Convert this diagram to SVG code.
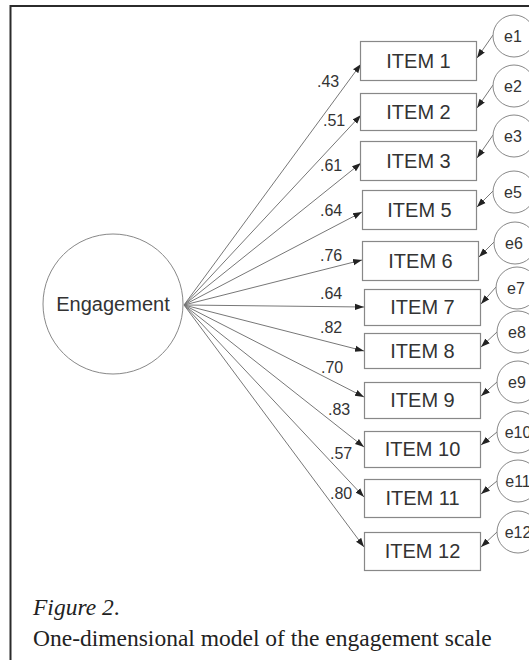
<svg xmlns="http://www.w3.org/2000/svg" width="529" height="660" viewBox="0 0 529 660">
<defs>
<marker id="ah" markerUnits="userSpaceOnUse" markerWidth="10" markerHeight="8" refX="9" refY="4" orient="auto">
<path d="M0,0.8 L9,4 L0,7.2 Z" fill="#222"/>
</marker>
<style>
.box{fill:#fff;stroke:#888;stroke-width:1.2}
.circ{fill:#fff;stroke:#888;stroke-width:1}
.itxt{font-family:"Liberation Sans",Arial,sans-serif;font-size:20px;fill:#333;text-anchor:middle}
.etxt{font-family:"Liberation Sans",Arial,sans-serif;font-size:16px;fill:#333;text-anchor:middle}
.lbl{font-family:"Liberation Sans",Arial,sans-serif;font-size:16px;fill:#333}
.ln{stroke:#777;stroke-width:1;fill:none;marker-end:url(#ah)}
.cap{font-family:"Liberation Serif","Times New Roman",serif;font-size:23.5px;fill:#222}
</style>
</defs>
<rect x="0" y="0" width="529" height="660" fill="#fff"/>
<path d="M10.5,660 V6 H529" fill="none" stroke="#2b2b2b" stroke-width="2"/>

<g id="connectors">
<line class="ln" x1="184" y1="305" x2="361" y2="64"/>
<line class="ln" x1="184" y1="305" x2="361" y2="115"/>
<line class="ln" x1="184" y1="305" x2="361" y2="163"/>
<line class="ln" x1="184" y1="305" x2="362" y2="212"/>
<line class="ln" x1="184" y1="305" x2="362" y2="260"/>
<line class="ln" x1="184" y1="305" x2="364" y2="307"/>
<line class="ln" x1="184" y1="305" x2="364" y2="351"/>
<line class="ln" x1="184" y1="305" x2="364" y2="397"/>
<line class="ln" x1="184" y1="305" x2="364" y2="447"/>
<line class="ln" x1="184" y1="305" x2="364" y2="497"/>
<line class="ln" x1="184" y1="305" x2="364" y2="547"/>
<line class="ln" x1="493" y1="35" x2="477" y2="58"/>
<line class="ln" x1="493" y1="85" x2="477" y2="108"/>
<line class="ln" x1="493" y1="135" x2="477" y2="158"/>
<line class="ln" x1="493" y1="191" x2="477" y2="207"/>
<line class="ln" x1="494" y1="242" x2="479" y2="257"/>
<line class="ln" x1="496" y1="287" x2="481" y2="304"/>
<line class="ln" x1="497" y1="332" x2="481" y2="347"/>
<line class="ln" x1="497" y1="382" x2="481" y2="396"/>
<line class="ln" x1="497" y1="432" x2="481" y2="445"/>
<line class="ln" x1="497" y1="481" x2="481" y2="494"/>
<line class="ln" x1="497" y1="532" x2="481" y2="547"/>
<text class="lbl" x="317" y="87">.43</text>
<text class="lbl" x="323" y="126">.51</text>
<text class="lbl" x="320" y="171">.61</text>
<text class="lbl" x="320" y="216">.64</text>
<text class="lbl" x="320" y="261">.76</text>
<text class="lbl" x="320" y="299">.64</text>
<text class="lbl" x="320" y="333">.82</text>
<text class="lbl" x="321" y="373">.70</text>
<text class="lbl" x="328" y="415">.83</text>
<text class="lbl" x="330" y="459">.57</text>
<text class="lbl" x="330" y="499">.80</text>
</g>

<g id="engagement">
<circle class="circ" cx="113" cy="304" r="70"/>
<text class="itxt" x="113" y="311">Engagement</text>
</g>

<g id="item1"><rect class="box" x="360.5" y="41.5" width="116" height="39"/><text class="itxt" x="418.5" y="68">ITEM 1</text></g>
<g id="item2"><rect class="box" x="360.5" y="93.5" width="116" height="37"/><text class="itxt" x="418.5" y="119">ITEM 2</text></g>
<g id="item3"><rect class="box" x="360.5" y="141.5" width="116" height="39"/><text class="itxt" x="418.5" y="168">ITEM 3</text></g>
<g id="item5"><rect class="box" x="362.5" y="190.5" width="114" height="39"/><text class="itxt" x="419.5" y="217">ITEM 5</text></g>
<g id="item6"><rect class="box" x="362.5" y="241.5" width="116" height="39"/><text class="itxt" x="420.5" y="268">ITEM 6</text></g>
<g id="item7"><rect class="box" x="364.5" y="289.5" width="116" height="36"/><text class="itxt" x="422.5" y="314">ITEM 7</text></g>
<g id="item8"><rect class="box" x="364.5" y="333.5" width="116" height="35"/><text class="itxt" x="422.5" y="358">ITEM 8</text></g>
<g id="item9"><rect class="box" x="364.5" y="382.5" width="116" height="36"/><text class="itxt" x="422.5" y="407">ITEM 9</text></g>
<g id="item10"><rect class="box" x="364.5" y="431.5" width="116" height="36"/><text class="itxt" x="422.5" y="456">ITEM 10</text></g>
<g id="item11"><rect class="box" x="364.5" y="479.5" width="116" height="38"/><text class="itxt" x="422.5" y="505">ITEM 11</text></g>
<g id="item12"><rect class="box" x="364.5" y="532.5" width="116" height="38"/><text class="itxt" x="422.5" y="558">ITEM 12</text></g>

<g id="e1"><circle class="circ" cx="514" cy="36" r="21"/><text class="etxt" x="513" y="42">e1</text></g>
<g id="e2"><circle class="circ" cx="514" cy="86" r="21"/><text class="etxt" x="513" y="92">e2</text></g>
<g id="e3"><circle class="circ" cx="514" cy="136" r="21"/><text class="etxt" x="513" y="142">e3</text></g>
<g id="e5"><circle class="circ" cx="514" cy="192" r="21"/><text class="etxt" x="513" y="198">e5</text></g>
<g id="e6"><circle class="circ" cx="515" cy="243" r="21"/><text class="etxt" x="514" y="249">e6</text></g>
<g id="e7"><circle class="circ" cx="517" cy="288" r="21"/><text class="etxt" x="516" y="294">e7</text></g>
<g id="e8"><circle class="circ" cx="518" cy="332" r="21"/><text class="etxt" x="517" y="338">e8</text></g>
<g id="e9"><circle class="circ" cx="518" cy="382" r="21"/><text class="etxt" x="517" y="388">e9</text></g>
<g id="e10"><circle class="circ" cx="518" cy="432" r="21"/><text class="etxt" x="518" y="438">e10</text></g>
<g id="e11"><circle class="circ" cx="518" cy="481" r="21"/><text class="etxt" x="518" y="487">e11</text></g>
<g id="e12"><circle class="circ" cx="518" cy="532" r="21"/><text class="etxt" x="518" y="538">e12</text></g>

<g id="caption">
<text class="cap" x="33" y="615" font-style="italic">Figure 2<tspan font-style="normal">.</tspan></text>
<text class="cap" x="33" y="646">One-dimensional model of the engagement scale</text>
</g>
</svg>
